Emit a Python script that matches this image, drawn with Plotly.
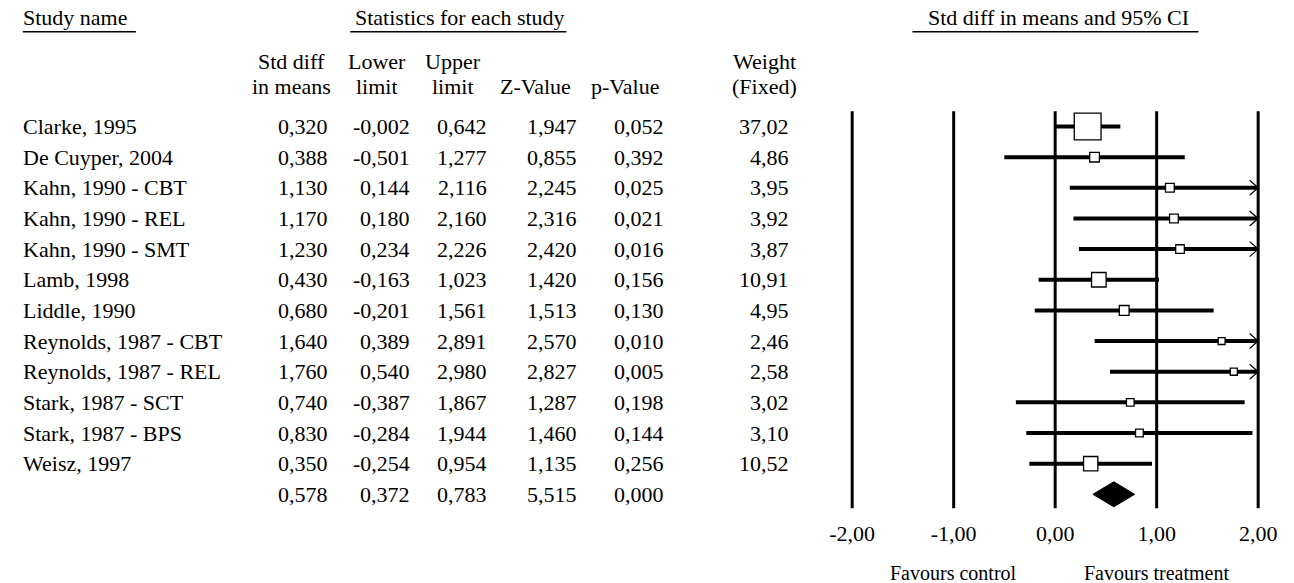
import math
import plotly.graph_objects as go

# ---------------- data ----------------
studies = ["Clarke, 1995", "De Cuyper, 2004", "Kahn, 1990 - CBT", "Kahn, 1990 - REL",
           "Kahn, 1990 - SMT", "Lamb, 1998", "Liddle, 1990", "Reynolds, 1987 - CBT",
           "Reynolds, 1987 - REL", "Stark, 1987 - SCT", "Stark, 1987 - BPS", "Weisz, 1997"]
smd = [0.320, 0.388, 1.130, 1.170, 1.230, 0.430, 0.680, 1.640, 1.760, 0.740, 0.830, 0.350]
lower = [-0.002, -0.501, 0.144, 0.180, 0.234, -0.163, -0.201, 0.389, 0.540, -0.387, -0.284, -0.254]
upper = [0.642, 1.277, 2.116, 2.160, 2.226, 1.023, 1.561, 2.891, 2.980, 1.867, 1.944, 0.954]
zval = [1.947, 0.855, 2.245, 2.316, 2.420, 1.420, 1.513, 2.570, 2.827, 1.287, 1.460, 1.135]
pval = [0.052, 0.392, 0.025, 0.021, 0.016, 0.156, 0.130, 0.010, 0.005, 0.198, 0.144, 0.256]
weight = [37.02, 4.86, 3.95, 3.92, 3.87, 10.91, 4.95, 2.46, 2.58, 3.02, 3.10, 10.52]

sum_smd = 0.578
sum_lower = 0.372
sum_upper = 0.783
sum_z = 5.515
sum_p = 0.000

tick_vals = [-2, -1, 0, 1, 2]
tick_text = ["-2,00", "-1,00", "0,00", "1,00", "2,00"]

# ---------------- layout geometry ----------------
W, H = 1294, 583
FONT = "Liberation Serif"
FS = 22
ROW0, ROWH = 126.5, 30.65          # pixel y of first row, row spacing
X0PX, UNIT = 853.7, 103.25         # pixel x of -2, pixels per unit
XMIN, XMAX = -2.1, 2.1
PLOT_BOTTOM = 510

def prow(py):
    return (py - ROW0) / ROWH

def ppy(py):
    return (H - py) / H

def ppx(px):
    return px / W

def fmt(v, d=3):
    return f"{v:.{d}f}".replace(".", ",")

n = len(studies)
rows = list(range(n))
sum_row = n
clip = tick_vals[-1]

fig = go.Figure()

# CI lines (clipped at the axis limit)
cx, cy = [], []
for i in rows:
    cx += [lower[i], min(upper[i], clip), None]
    cy += [i, i, None]
fig.add_trace(go.Scatter(x=cx, y=cy, mode="lines", line=dict(color="black", width=4),
                         hoverinfo="skip", showlegend=False))

# arrowheads for CIs running past the axis limit
ax_, ay_ = [], []
dx = 8.7 / UNIT
dy = 7.5 / ROWH
for i in rows:
    if upper[i] > clip:
        ax_ += [clip - dx, clip, clip - dx, None]
        ay_ += [i - dy, i, i + dy, None]
fig.add_trace(go.Scatter(x=ax_, y=ay_, mode="lines", line=dict(color="black", width=1.2),
                         hoverinfo="skip", showlegend=False))

# weighted boxes
fig.add_trace(go.Scatter(x=smd, y=rows, mode="markers",
                         marker=dict(symbol="square", size=[4.4 * math.sqrt(w) for w in weight],
                                     color="white", opacity=1,
                                     line=dict(color="black", width=1.3)),
                         hoverinfo="skip", showlegend=False))

# summary diamond
hd = 12.5 / ROWH
fig.add_trace(go.Scatter(x=[sum_lower, sum_smd, sum_upper, sum_smd, sum_lower],
                         y=[sum_row, sum_row - hd, sum_row, sum_row + hd, sum_row],
                         mode="lines", fill="toself", fillcolor="black",
                         line=dict(color="black", width=1), hoverinfo="skip", showlegend=False))

# vertical reference lines
shapes = []
for v in tick_vals:
    shapes.append(dict(type="line", xref="x", yref="y", x0=v, x1=v, y0=-0.5, y1=prow(508.3),
                       line=dict(color="black", width=3), layer="below"))

# header underlines
for x0, x1 in [(10, 125), (343, 563), (915, 1206)]:
    shapes.append(dict(type="line", xref="paper", yref="paper", x0=ppx(x0), x1=ppx(x1),
                       y0=ppy(31.7), y1=ppy(31.7), line=dict(color="black", width=1.5)))

annotations = []
def txt(text, x, y, xanchor="center", yref="paper", size=FS, xref="paper"):
    annotations.append(dict(text=text, x=x, y=y, xref=xref, yref=yref, xanchor=xanchor,
                            yanchor="middle", showarrow=False, borderpad=0,
                            font=dict(family=FONT, size=size, color="black")))

# top headers
txt("Study name", ppx(9), ppy(18), xanchor="left")
txt("Statistics for each study", ppx(455), ppy(18))
txt("Std diff in means and 95% CI", ppx(1064), ppy(18))

# column headers
col_right = [321.7, 405, 483.3, 575, 663.3, 790]
head1 = ["Std diff", "Lower", "Upper", "", "", "Weight"]
head2 = ["in means", "limit", "limit", "Z-Value", "p-Value", "(Fixed)"]
head_cx = [283, 370, 448, 532, 622.5, 765]
for h1, h2, c in zip(head1, head2, head_cx):
    if h1:
        txt(h1, ppx(c), ppy(62))
    txt(h2, ppx(c), ppy(86))

# table rows
for i in rows:
    txt(studies[i], ppx(9), i, xanchor="left", yref="y")
    vals = [fmt(smd[i]), fmt(lower[i]), fmt(upper[i]), fmt(zval[i]), fmt(pval[i]), fmt(weight[i], 2)]
    for v, r in zip(vals, col_right):
        txt(v, ppx(r), i, xanchor="right", yref="y")
for v, r in zip([fmt(sum_smd), fmt(sum_lower), fmt(sum_upper), fmt(sum_z), fmt(sum_p)], col_right):
    txt(v, ppx(r), sum_row, xanchor="right", yref="y")

# favours labels
txt("Favours control", -1, ppy(573), xref="x", size=20)
txt("Favours treatment", 1, ppy(573), xref="x", size=20)

fig.update_layout(
    width=W, height=H,
    margin=dict(l=0, r=0, t=0, b=0),
    paper_bgcolor="white", plot_bgcolor="white",
    showlegend=False,
    shapes=shapes, annotations=annotations,
    xaxis=dict(range=[XMIN, XMAX],
               domain=[ppx(X0PX + (XMIN + 2) * UNIT), ppx(X0PX + (XMAX + 2) * UNIT)],
               tickvals=tick_vals, ticktext=tick_text, ticks="", showgrid=False,
               zeroline=False, showline=False, fixedrange=True, ticklabelstandoff=8,
               tickfont=dict(family=FONT, size=FS, color="black")),
    yaxis=dict(range=[prow(PLOT_BOTTOM), prow(0)], domain=[ppy(PLOT_BOTTOM), 1],
               showticklabels=False, showgrid=False, zeroline=False, showline=False,
               fixedrange=True),
    hovermode=False,
)

fig.write_html("out.html", config={"displayModeBar": False},
               post_script="document.body.style.margin='0';document.body.style.overflow='hidden';")
